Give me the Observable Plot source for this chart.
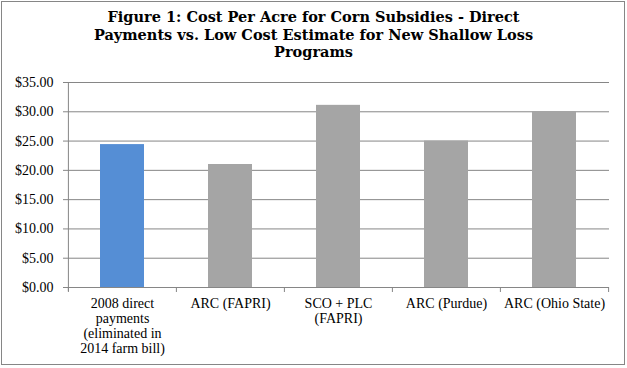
<!DOCTYPE html>
<html><head><meta charset="utf-8">
<script src="https://cdn.jsdelivr.net/npm/d3@7"></script>
<script src="https://cdn.jsdelivr.net/npm/@observablehq/plot@0.6"></script>
<style>
html,body{margin:0;padding:0;background:#fff;}
#wrap{position:relative;width:627px;height:368px;overflow:hidden;background:#fff;}
#border{position:absolute;left:1px;top:1px;width:624px;height:364px;box-sizing:border-box;border:1px solid #868686;}
#title{position:absolute;left:0;top:8px;width:627px;text-align:center;font-family:"DejaVu Serif";font-weight:bold;font-size:14.5px;line-height:17.5px;color:#000;}
#chart{position:absolute;left:0;top:66px;}
</style></head><body>
<div id="wrap"><div id="border"></div><div id="title">Figure 1: Cost Per Acre for Corn Subsidies - Direct<br>Payments vs. Low Cost Estimate for New Shallow Loss<br>Programs</div><div id="chart"></div></div>
<script>
const categories = ["2008 direct payments", "ARC (FAPRI)", "SCO + PLC (FAPRI)", "ARC (Purdue)", "ARC (Ohio State)"];
const labels = ["2008 direct\npayments\n(eliminated in\n2014 farm bill)", "ARC (FAPRI)", "SCO + PLC\n(FAPRI)", "ARC (Purdue)", "ARC (Ohio State)"];
const values = [24.4, 21.0, 31.1, 25.0, 30.0];
const groups = ["direct", "new", "new", "new", "new"];
const yTicks = [0, 5, 10, 15, 20, 25, 30, 35];

const W = 627, H = 300, mL = 68, mR = 18, mT = 16, mB = 79;
const step = (W - mL - mR) / categories.length;
const data = categories.map((c, i) => ({c, label: labels[i], v: values[i], g: groups[i]}));
const axisColor = "#868686";

const chart = Plot.plot({
  width: W, height: H,
  marginLeft: mL, marginRight: mR, marginTop: mT, marginBottom: mB,
  style: {fontFamily: "Liberation Serif", fontSize: "14px", color: "#000", background: "transparent"},
  x: {domain: categories, paddingInner: 0.59, paddingOuter: 0.295, axis: null},
  y: {domain: [0, 35], axis: null},
  color: {domain: ["direct", "new"], range: ["#558ED5", "#A5A5A5"]},
  marks: [
    Plot.gridY(yTicks, {stroke: axisColor, strokeOpacity: 1}),
    Plot.axisY(yTicks, {tickSize: 5, tickPadding: 10, stroke: axisColor, fill: "#000", fontSize: 14,
      fontFamily: "Liberation Serif", label: null,
      tickFormat: d => "$" + d3.format(".2f")(d)}),
    Plot.barY(data, {x: "c", y: "v", fill: "g"}),
    Plot.ruleX([categories[0]], {x: d => d, dx: -step / 2, y1: 35, y2: 0, insetBottom: -4, stroke: axisColor}),
    Plot.ruleX(categories, {x: d => d, dx: -step / 2, y1: 35, y2: 0, insetTop: 205, insetBottom: -5, stroke: axisColor}),
    Plot.ruleX([categories[categories.length - 1]], {x: d => d, dx: step / 2, y1: 35, y2: 0, insetTop: 205, insetBottom: -5, stroke: axisColor}),
    Plot.text(data, {x: "c", y: 0, text: "label", lineAnchor: "top", dy: 10, lineHeight: 1.07, fontSize: 14, fill: "#000"})
  ]
});
document.getElementById("chart").appendChild(chart);
</script>
</body></html>
